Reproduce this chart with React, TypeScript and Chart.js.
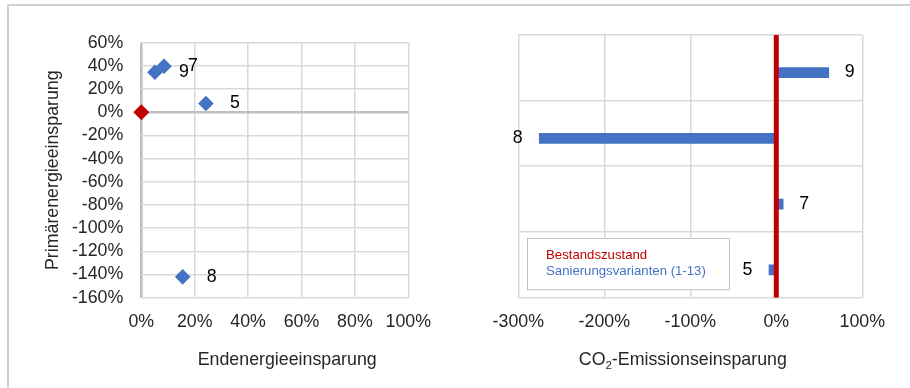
import React, { useEffect, useRef } from 'react';
import { Chart, registerables } from 'chart.js';

Chart.register(...registerables);

const FONT = "'Liberation Sans', Arial, sans-serif";
const FS = 17.8;
const TEXT = '#262626';
const GRID = '#d9d9d9';
const AXIS = '#bfbfbf';
const BLUE = '#4472c4';
const RED = '#c00000';

// ---- Left chart: Endenergie vs. Primärenergie ----
const variantLabels = ['9', '7', '5', '8'];
const endenergieSaving = [5.1, 8.5, 24.2, 15.5];
const primaerenergieSaving = [34.5, 39.7, 7.5, -142];
const bestandEndenergie = [0];
const bestandPrimaerenergie = [0];

// ---- Right chart: CO2 ----
const co2Categories = ['9', '8', '7', '5'];
const co2Saving = [61, -275.6, 8, -8.5];
const bestandCo2 = [0, 0];

const legendLabels = ['Bestandszustand', 'Sanierungsvarianten (1-13)'];

const pct = (v: any) => v + '%';

function LeftChart() {
  const ref = useRef<HTMLCanvasElement>(null);
  useEffect(() => {
    const labelPlugin = {
      id: 'leftLabels',
      afterDatasetsDraw(chart: any) {
        const ctx = chart.ctx;
        const meta = chart.getDatasetMeta(1);
        ctx.save();
        ctx.font = `${FS}px ${FONT}`;
        ctx.fillStyle = '#000';
        ctx.textAlign = 'center';
        ctx.textBaseline = 'middle';
        meta.data.forEach((el: any, i: number) => {
          ctx.fillText(variantLabels[i], el.x + 29, el.y);
        });
        ctx.restore();
      },
      afterDraw(chart: any) {
        const ctx = chart.ctx;
        const ca = chart.chartArea;
        ctx.save();
        ctx.font = `${FS}px ${FONT}`;
        ctx.fillStyle = TEXT;
        ctx.textAlign = 'center';
        ctx.textBaseline = 'alphabetic';
        ctx.fillText('Endenergieeinsparung', (ca.left + ca.right) / 2 + 12.4, ca.bottom + 67);
        ctx.restore();
      },
    };
    const chart = new Chart(ref.current as HTMLCanvasElement, {
      type: 'scatter',
      data: {
        datasets: [
          {
            label: legendLabels[0],
            data: bestandEndenergie.map((x, i) => ({ x, y: bestandPrimaerenergie[i] })),
            backgroundColor: RED,
            borderColor: RED,
            borderWidth: 0,
            pointStyle: 'rectRot',
            pointRadius: 8,
            clip: false,
          } as any,
          {
            label: legendLabels[1],
            data: endenergieSaving.map((x, i) => ({ x, y: primaerenergieSaving[i] })),
            backgroundColor: BLUE,
            borderColor: BLUE,
            borderWidth: 0,
            pointStyle: 'rectRot',
            pointRadius: 7.8,
            clip: false,
          } as any,
        ],
      },
      options: {
        responsive: false,
        animation: false,
        events: [],
        layout: { padding: { left: 40, right: 51.7, top: 42.7, bottom: 19.3 } },
        plugins: { legend: { display: false }, tooltip: { enabled: false } },
        scales: {
          x: {
            type: 'linear',
            min: 0,
            max: 100,
            ticks: { stepSize: 20, autoSkip: false, callback: pct, font: { family: FONT, size: FS }, color: TEXT, padding: 13.6, maxRotation: 0 },
            grid: {
              color: (c: any) => (c.tick && c.tick.value === 0 ? AXIS : GRID),
              lineWidth: (c: any) => (c.tick && c.tick.value === 0 ? 2.6 : 1.5),
              drawTicks: false,
            },
            border: { display: false },
            afterFit: (s: any) => { s.height = 71; },
          },
          y: {
            type: 'linear',
            min: -160,
            max: 60,
            ticks: { stepSize: 20, autoSkip: false, callback: pct, font: { family: FONT, size: FS }, color: TEXT, padding: 18 },
            grid: {
              color: (c: any) => (c.tick && c.tick.value === 0 ? AXIS : GRID),
              lineWidth: (c: any) => (c.tick && c.tick.value === 0 ? 2.6 : 1.5),
              drawTicks: false,
            },
            border: { display: false },
            title: {
              display: true,
              text: 'Primärenergieeinsparung',
              font: { family: FONT, size: FS },
              color: TEXT,
              padding: { top: 2.4, bottom: 0 },
            },
            afterFit: (s: any) => { s.width = 101.3; },
          },
        },
      } as any,
      plugins: [labelPlugin],
    });
    return () => chart.destroy();
  }, []);
  return <canvas ref={ref} width={460} height={388} style={{ position: 'absolute', left: 0, top: 0, width: 460, height: 388 }} />;
}

function RightChart() {
  const ref = useRef<HTMLCanvasElement>(null);
  useEffect(() => {
    const plugin = {
      id: 'rightExtras',
      afterDatasetsDraw(chart: any) {
        const ctx = chart.ctx;
        const meta = chart.getDatasetMeta(1);
        ctx.save();
        ctx.font = `${FS}px ${FONT}`;
        ctx.fillStyle = '#000';
        ctx.textAlign = 'center';
        ctx.textBaseline = 'middle';
        meta.data.forEach((el: any, i: number) => {
          const v = co2Saving[i];
          ctx.fillText(co2Categories[i], v >= 0 ? el.x + 21 : el.x - 21.5, el.y);
        });
        ctx.restore();
      },
      afterDraw(chart: any) {
        const ctx = chart.ctx;
        const ca = chart.chartArea;
        ctx.save();
        // legend box
        const bx = ca.left + 8.4;
        const by = ca.bottom - 59.7;
        const bw = 202;
        const bh = 51.3;
        ctx.fillStyle = '#fff';
        ctx.fillRect(bx, by, bw, bh);
        ctx.strokeStyle = AXIS;
        ctx.lineWidth = 1;
        ctx.strokeRect(Math.round(bx) + 0.5, Math.round(by) + 0.5, bw, bh);
        ctx.font = `13.2px ${FONT}`;
        ctx.textAlign = 'left';
        ctx.textBaseline = 'middle';
        chart.data.datasets.forEach((ds: any, i: number) => {
          ctx.fillStyle = ds.type === 'line' ? ds.borderColor : ds.backgroundColor;
          ctx.fillText(ds.label, bx + 19.3, by + 17.3 + i * 15.7);
        });
        // axis title with subscript
        const main = `${FS}px ${FONT}`;
        const sub = `11.5px ${FONT}`;
        const p1 = 'CO';
        const p2 = '2';
        const p3 = '-Emissionseinsparung';
        ctx.font = main;
        const w1 = ctx.measureText(p1).width;
        const w3 = ctx.measureText(p3).width;
        ctx.font = sub;
        const w2 = ctx.measureText(p2).width;
        const total = w1 + w2 + w3;
        let x = (ca.left + ca.right) / 2 - 7.5 - total / 2;
        const y = ca.bottom + 67;
        ctx.fillStyle = TEXT;
        ctx.textBaseline = 'alphabetic';
        ctx.font = main;
        ctx.fillText(p1, x, y);
        x += w1;
        ctx.font = sub;
        ctx.fillText(p2, x, y + 4);
        x += w2;
        ctx.font = main;
        ctx.fillText(p3, x, y);
        ctx.restore();
      },
    };
    const chart = new Chart(ref.current as HTMLCanvasElement, {
      type: 'bar',
      data: {
        labels: co2Categories,
        datasets: [
          {
            type: 'line',
            label: legendLabels[0],
            data: bestandCo2.map((x, i) => ({ x, y: i })),
            xAxisID: 'x',
            yAxisID: 'yLine',
            borderColor: RED,
            backgroundColor: RED,
            borderWidth: 5,
            pointRadius: 0,
            order: 0,
          } as any,
          {
            type: 'bar',
            label: legendLabels[1],
            data: co2Saving,
            xAxisID: 'x',
            yAxisID: 'y',
            backgroundColor: BLUE,
            barThickness: 10,
            order: 1,
          } as any,
        ],
      },
      options: {
        indexAxis: 'y',
        responsive: false,
        animation: false,
        events: [],
        layout: { padding: { left: 58.3, right: 47.7, top: 34.7, bottom: 19.3 } },
        plugins: { legend: { display: false }, tooltip: { enabled: false } },
        scales: {
          x: {
            type: 'linear',
            min: -300,
            max: 100,
            ticks: { stepSize: 100, autoSkip: false, callback: pct, font: { family: FONT, size: FS }, color: TEXT, padding: 13.6, maxRotation: 0 },
            grid: { color: GRID, lineWidth: 1.5, drawTicks: false },
            border: { display: false },
            afterFit: (s: any) => { s.height = 71; },
          },
          y: {
            type: 'category',
            offset: true,
            ticks: { display: false },
            grid: { color: GRID, lineWidth: 1.5, drawTicks: false, offset: true },
            border: { display: false },
            afterFit: (s: any) => { s.width = 0; },
          },
          yLine: { type: 'linear', display: false, min: 0, max: 1, offset: false, grid: { offset: false } },
        },
      } as any,
      plugins: [plugin],
    });
    return () => chart.destroy();
  }, []);
  return <canvas ref={ref} width={450} height={388} style={{ position: 'absolute', left: 460, top: 0, width: 450, height: 388 }} />;
}

export default function App() {
  return (
    <div style={{ position: 'fixed', left: 0, top: 0, width: 910, height: 388, overflow: 'hidden', background: '#fff' }}>
      <div
        style={{
          position: 'absolute',
          left: 7,
          top: 4,
          width: 1000,
          height: 1000,
          borderLeft: '2px solid #d0d0d0',
          borderTop: '2px solid #d0d0d0',
        }}
      />
      <LeftChart />
      <RightChart />
    </div>
  );
}
